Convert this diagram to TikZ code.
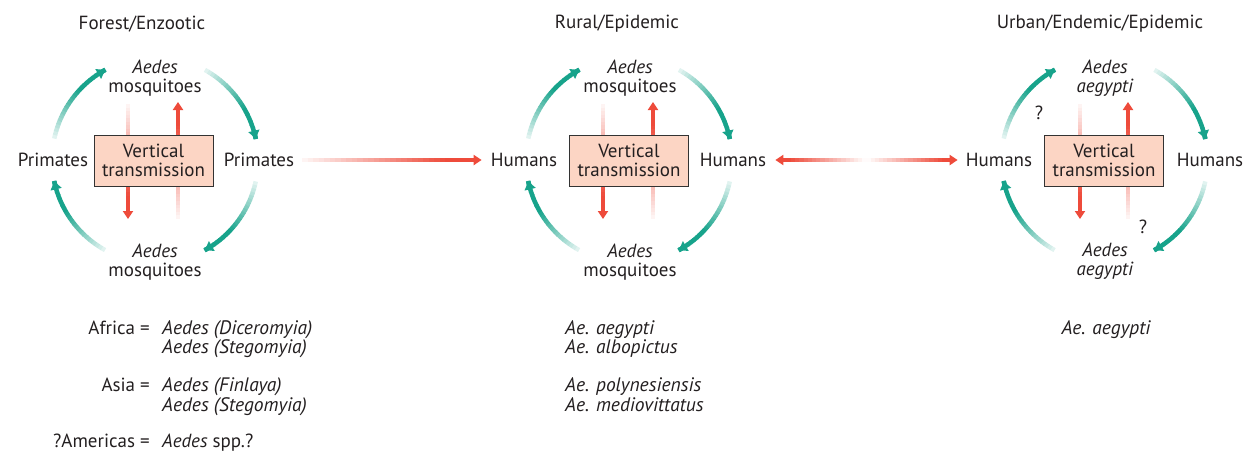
\documentclass[tikz,border=0pt]{standalone}
\usepackage{fontspec}
\setmainfont{PT Sans}
\usetikzlibrary{arrows.meta,calc}
\definecolor{tealc}{HTML}{17A38B}
\definecolor{redc}{HTML}{EE4B3B}
\definecolor{boxfill}{HTML}{FCD5C4}
\definecolor{txt}{HTML}{231F20}
\newcommand{\garc}[3]{%
  \foreach \i in {0,...,23}{%
    \pgfmathsetmacro\aa{#2+(#3-#2)*\i/24}%
    \pgfmathsetmacro\ab{#2+(#3-#2)*(\i+1.15)/24}%
    \pgfmathtruncatemacro\pp{min(100,8+140*(\i+1)/24)}%
    \draw[garcline, tealc!\pp!white] ($(#1)+({103*cos(\aa)},{-103*sin(\aa)})$) -- ($(#1)+({103*cos(\ab)},{-103*sin(\ab)})$);
  }%
  \pgfmathsetmacro\ac{#3-(#3-#2)*0.001}%
  \draw[garcline, tealc, -{Triangle[width=11pt,length=8pt]}] ($(#1)+({103*cos(\ac)},{-103*sin(\ac)})$) -- ($(#1)+({103*cos(#3)},{-103*sin(#3)})$);
}
\newcommand{\rgrad}[2]{%
  \foreach \i in {0,...,29}{%
    \pgfmathtruncatemacro\pp{min(100,3+110*(\i+1)/30)}%
    \draw[rline, redc!\pp!white] ($(#1)!{0.92*\i/30}!(#2)$) -- ($(#1)!{0.92*(\i+1.1)/30}!(#2)$);
  }%
  \draw[rline, redc, -{Triangle[width=10pt,length=8pt]}] ($(#1)!0.9!(#2)$) -- (#2);
}
\begin{document}
\begin{tikzpicture}[x=1pt,y=-1pt,
  font=\fontsize{19}{19}\selectfont,
  lbl/.style={inner sep=0pt, text=txt, align=center},
  vbox/.style={draw=black!80, fill=boxfill, line width=0.8pt, minimum width=119pt, minimum height=51pt, align=center, inner sep=0pt, text=txt},
  garcline/.style={line width=4.5pt},
  rline/.style={line width=4.5pt},
  it/.style={font=\fontsize{19.5}{19}\selectfont\itshape},
  bl/.style={inner sep=0pt, text=txt, anchor=base west},
  br/.style={inner sep=0pt, text=txt, anchor=base east}]
\useasboundingbox (0,0) rectangle (1247,451);

% ---------- Panel 1 ----------
\node[lbl] (t1) at (142,24) {Forest/Enzootic};
\coordinate (c1) at (155,160);
\node[lbl] (m1t) at (155,78) {\textit{Aedes}\\mosquitoes};
\node[lbl] (p1l) at (53,160) {Primates};
\node[lbl] (p1r) at (259,160) {Primates};
\node[lbl] (m1b) at (155,262) {\textit{Aedes}\\mosquitoes};
\garc{c1}{168}{119}
\garc{c1}{61}{12}
\garc{c1}{-12}{-61}
\garc{c1}{-119}{-168}
\coordinate (v1a) at (128,104); \coordinate (v1b) at (128,219);
\coordinate (v1c) at (178,219); \coordinate (v1d) at (178,102);
\rgrad{v1a}{v1b}
\rgrad{v1c}{v1d}
\node[vbox] (b1) at (153.5,160.5) {Vertical\\transmission};

% ---------- Panel 2 ----------
\node[lbl] (t2) at (617,24) {Rural/Epidemic};
\coordinate (c2) at (629,160);
\node[lbl] (m2t) at (630,78) {\textit{Aedes}\\mosquitoes};
\node[lbl] (h2l) at (524,160) {Humans};
\node[lbl] (h2r) at (733,160) {Humans};
\node[lbl] (m2b) at (630,262) {\textit{Aedes}\\mosquitoes};
\garc{c2}{168}{119}
\garc{c2}{61}{12}
\garc{c2}{-12}{-61}
\garc{c2}{-119}{-168}
\coordinate (v2a) at (603,104); \coordinate (v2b) at (603,219);
\coordinate (v2c) at (653,219); \coordinate (v2d) at (653,102);
\rgrad{v2a}{v2b}
\rgrad{v2c}{v2d}
\node[vbox] (b2) at (629,160.5) {Vertical\\transmission};

% ---------- Panel 3 ----------
\node[lbl] (t3) at (1100,24) {Urban/Endemic/Epidemic};
\coordinate (c3) at (1104.5,160);
\node[lbl] (m3t) at (1105,78) {\textit{Aedes}\\\textit{aegypti}};
\node[lbl] (h3l) at (999,160) {Humans};
\node[lbl] (h3r) at (1210,160) {Humans};
\node[lbl] (m3b) at (1105,261) {\textit{Aedes}\\\textit{aegypti}};
\garc{c3}{168}{119}
\garc{c3}{61}{12}
\garc{c3}{-12}{-61}
\garc{c3}{-119}{-168}
\coordinate (v3a) at (1080,104); \coordinate (v3b) at (1080,219);
\coordinate (v3c) at (1128,219); \coordinate (v3d) at (1128,102);
\rgrad{v3a}{v3b}
\rgrad{v3c}{v3d}
\node[vbox] (b3) at (1104,160.5) {Vertical\\transmission};
\node[lbl] (q1) at (1039,113) {?};
\node[lbl] (q2) at (1143,227) {?};

% ---------- Horizontal connectors ----------
\coordinate (h1s) at ([xshift=8pt]p1r.east);
\coordinate (h1e) at ([xshift=-9pt]h2l.west);
\rgrad{h1s}{h1e}
\coordinate (h2s) at ([xshift=9pt]h2r.east);
\coordinate (h2e) at ([xshift=-8pt]h3l.west);
\foreach \i in {0,...,39}{%
  \pgfmathtruncatemacro\pp{min(100,110*abs(2*(\i+0.5)/40-1))}%
  \draw[rline, redc!\pp!white] ($(h2s)!{0.04+0.92*\i/40}!(h2e)$) -- ($(h2s)!{0.04+0.92*(\i+1.1)/40}!(h2e)$);
}
\draw[rline, redc, -{Triangle[width=10pt,length=8pt]}] ($(h2s)!0.06!(h2e)$) -- (h2s);
\draw[rline, redc, -{Triangle[width=10pt,length=8pt]}] ($(h2s)!0.94!(h2e)$) -- (h2e);

% ---------- Bottom texts ----------
\node[br] (af) at (150,334) {Africa =};
\node[bl, it] (af1) at (162,334) {Aedes (Diceromyia)};
\node[bl, it] (af2) at (162,353) {Aedes (Stegomyia)};
\node[br] (as) at (150,391) {Asia =};
\node[bl, it] (as1) at (162,391) {Aedes (Finlaya)};
\node[bl, it] (as2) at (162,411) {Aedes (Stegomyia)};
\node[br] (am) at (150,447) {?Americas =};
\node[bl] (am1) at (162,447) {\textit{Aedes} spp.?};

\node[bl, it] (r1) at (565,334) {Ae. aegypti};
\node[bl, it] (r2) at (565,353) {Ae. albopictus};
\node[bl, it] (r3) at (565,391) {Ae. polynesiensis};
\node[bl, it] (r4) at (565,411) {Ae. mediovittatus};

\node[lbl, it, anchor=base] (u1) at (1106,334) {Ae. aegypti};
\end{tikzpicture}
\end{document}
